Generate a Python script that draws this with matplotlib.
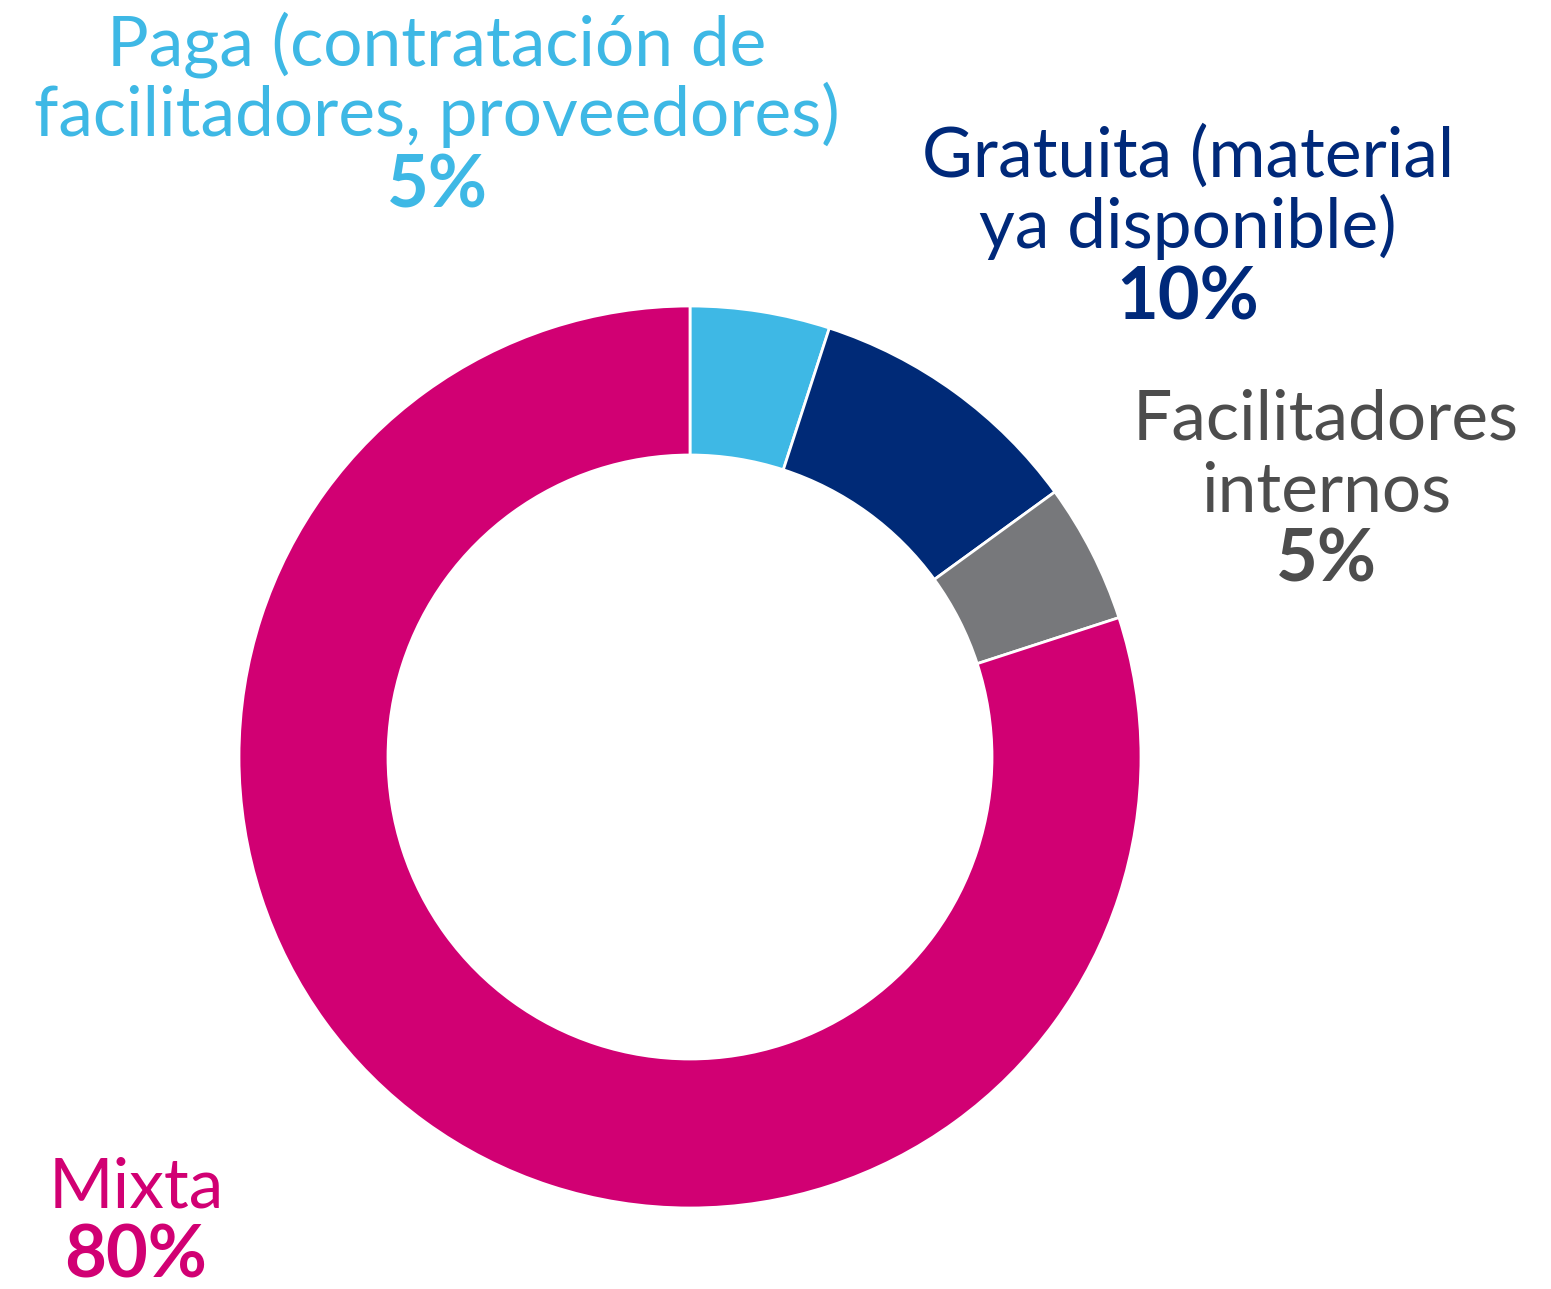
import matplotlib
matplotlib.use("Agg")
import matplotlib.pyplot as plt

W, H = 1551, 1289

# Data
labels = ['Paga (contratación de\nfacilitadores, proveedores)',
          'Gratuita (material\nya disponible)',
          'Facilitadores\ninternos',
          'Mixta']
values = [5, 10, 5, 80]
colors = ['#3EB8E5', '#002A77', '#77787B', '#D10073']
text_colors = ['#3EB8E5', '#00297A', '#4D4D4D', '#D10073']

plt.rcParams['font.family'] = ['Lato', 'DejaVu Sans']

fig = plt.figure(figsize=(W / 100, H / 100), dpi=100)
ax = fig.add_axes([0, 0, 1, 1])
ax.pie(values, colors=colors, startangle=90, counterclock=False,
       radius=451, center=(690, H - 757),
       wedgeprops=dict(width=149, edgecolor='white', linewidth=2))
ax.set_xlim(0, W)
ax.set_ylim(0, H)
ax.set_aspect('equal')
ax.axis('off')

# label placement (x center, first baseline) in pixels
label_pos = [(437, 65), (1188, 177), (1326, 440), (136, 1207)]
line_gap = 71
fs = 50

for lab, val, col, (x, y) in zip(labels, values, text_colors, label_pos):
    lines = lab.split('\n')
    for i, ln in enumerate(lines):
        fig.text(x / W, 1 - (y + i * line_gap) / H, ln, ha='center', va='baseline',
                 fontsize=fs, color=col)
    yb = y + len(lines) * line_gap
    fig.text(x / W, 1 - yb / H, f'{val}%', ha='center', va='baseline',
             fontsize=fs + 2, fontweight='bold', color=col)

fig.savefig('out.png', dpi=100)
